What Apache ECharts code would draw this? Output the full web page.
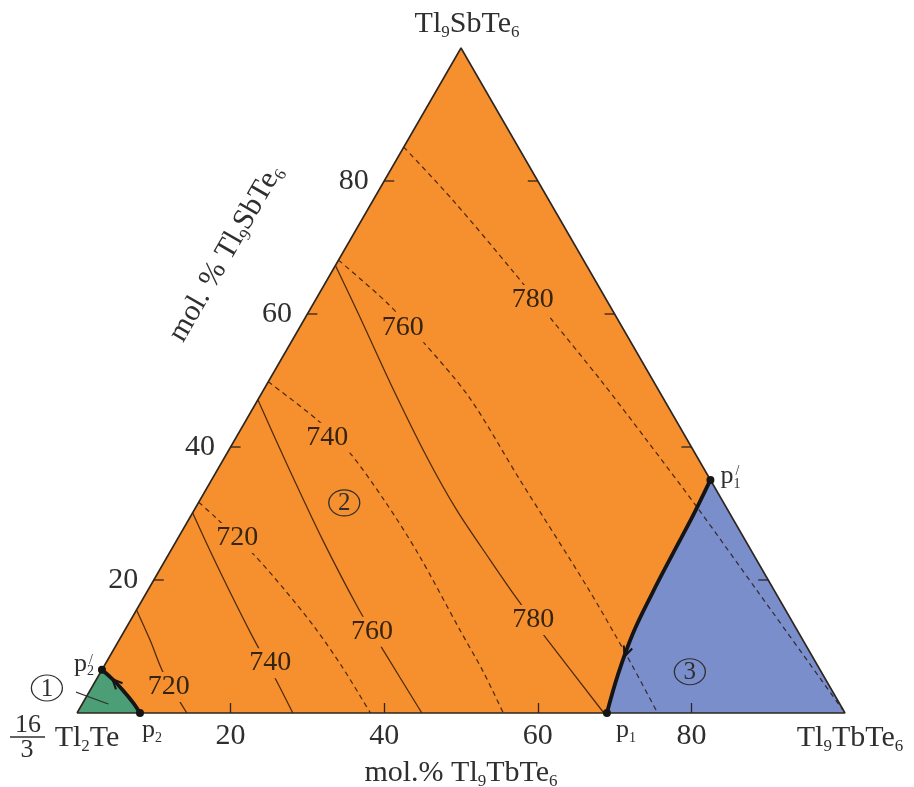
<!DOCTYPE html>
<html>
<head>
<meta charset="utf-8">
<script src="https://cdn.jsdelivr.net/npm/echarts@6/dist/echarts.min.js"></script>
<style>
  html, body { margin: 0; padding: 0; background: #fff; }
  #chart { width: 914px; height: 787px; }
</style>
</head>
<body>
<div id="chart"></div>
<script>
// Compositions are [mol.% Tl9TbTe6, mol.% Tl9SbTe6]; the remainder is Tl2Te.
const vertexTl2Te = [0, 0];
const vertexTl9TbTe6 = [100, 0];
const vertexTl9SbTe6 = [0, 100];
const edgeTicks = [20, 40, 60, 80];

// Invariant points on the boundary binaries
const pointNames = ['p1', "p1'", 'p2', "p2'"];
const pointValues = [[69, 0], [64.95, 35.05], [8.2, 0], [0, 6.5]];

// Monovariant curves separating the primary crystallization fields
const curveP1 = [[69, 0], [67.5, 6], [66.4, 12], [65.9, 18], [65.6, 24], [65.4, 29], [65.2, 32], [64.95, 35.05]];
const curveP2 = [[8.2, 0], [6.6, 1.5], [4.3, 3.4], [2.2, 5.0], [0, 6.5]];

// Isotherms, solid set (°C)
const solid720 = [[0, 15.5], [4, 11], [7.8, 6.5], [10.5, 3.7], [14.3, 0]];
const solid740 = [[0, 30.1], [5.3, 24.2], [11, 18], [17, 11.6], [23.4, 5], [28.1, 0]];
const solid760 = [[0, 47.1], [9, 37], [19, 26], [28.7, 15.8], [35.1, 9.5], [44.9, 0]];
const solid780 = [[0, 67.3], [7.1, 59.5], [16, 49.6], [26.3, 38.5], [34.2, 30.5], [42.3, 23], [48.9, 17], [55.4, 11.3], [68.6, 0]];

// Isotherms, dashed set (°C)
const dashed720 = [[0, 31.7], [3.2, 29.5], [11.4, 23.6], [17.8, 18.5], [24.6, 12.8], [31.2, 6.8], [38.2, 0]];
const dashed740 = [[0, 49.8], [9.2, 44.1], [15.4, 39.6], [24, 32], [32.6, 23.8], [43.6, 12.5], [49.8, 6.2], [55.5, 0]];
const dashed760 = [[0, 68.1], [9.5, 61.7], [16.8, 56.1], [27.3, 47.5], [40.2, 35], [56.9, 19], [67.2, 8.7], [75.6, 0]];
const dashed780 = [[0, 85.1], [10.4, 77.1], [23.7, 66.3], [32.3, 59.1], [43.1, 50.1], [53.7, 41], [65.2, 31], [79.8, 18], [99.5, 0.45]];

// Isotherm temperature labels
const isoLabelText = ['720', '740', '760', '780', '720', '740', '760', '780'];
const isoLabelPos = [[10, 3.9], [21.4, 7.5], [32.3, 12.2], [52.4, 14], [7.7, 26.3], [11.9, 41.4], [13.4, 58], [28.3, 62.1]];

// Field numbers and the leader for field 1
const fieldNames = ['1', '2', '3'];
const fieldPos = [[-5.8, 3.76], [19, 31.6], [76.7, 6.2]];
const fieldLeader = [[-3, 3.6], [3.4, 1.35]];

// Arrows along the curves: tip and a point behind it
const arrowTips = [[2.05, 5.1], [67.05, 8.5]];
const arrowTails = [[4.3, 3.4], [66.4, 12]];

// ---- drawing ----
const SQ = Math.sqrt(3) / 2;
const toXY = p => [p[0] + p[1] / 2, p[1] * SQ];

const FONT = 'Liberation Serif';
const TEXT = '#2f2f2f';
const INK = '#2e2620';
const ORANGE = '#F68F2E';
const BLUE = '#7A8ECC';
const GREEN = '#4C9E76';
const ISO = 'rgba(35,18,5,0.8)';
const LABEL_INK = '#35240f';

const sub = (size, lh) => ({ fontSize: size, fontFamily: FONT, color: TEXT, lineHeight: lh, verticalAlign: 'bottom' });

function fill(name, pts, color, z) {
  return {
    type: 'custom', name, coordinateSystem: 'cartesian2d', silent: true, z,
    data: [[0, 0]],
    renderItem: (params, api) => ({
      type: 'polygon',
      shape: { points: pts.map(p => api.coord(toXY(p))) },
      style: { fill: color }
    })
  };
}

function line(name, pts, lineStyle, z, smooth) {
  return {
    type: 'line', name, data: pts.map(toXY), symbol: 'none', showSymbol: false,
    smooth: smooth, lineStyle, z, silent: true, clip: false
  };
}

const solidStyle = { color: ISO, width: 1.25 };
const dashStyle = { color: ISO, width: 1.25, type: [5, 4] };
const thickStyle = { color: '#151515', width: 3.8 };

function textItem(pos, formatter, labelOpts) {
  return {
    value: toXY(pos),
    label: Object.assign({ show: true, formatter, position: 'inside', fontFamily: FONT, color: TEXT, opacity: 1 }, labelOpts)
  };
}

function textSeries(name, data, z) {
  return {
    type: 'scatter', name, z, silent: true, clip: false, symbolSize: 1,
    itemStyle: { color: 'rgba(0,0,0,0)', opacity: 1 }, data
  };
}

// Vertex and point labels
const vertexLabels = [
  textItem(vertexTl9SbTe6, 'Tl{s|9}SbTe{s|6}', { fontSize: 30, lineHeight: 34, offset: [6, -24], rich: { s: sub(17, 34) } }),
  textItem(vertexTl2Te, 'Tl{s|2}Te', { fontSize: 30, lineHeight: 34, offset: [10, 25], rich: { s: sub(17, 34) } }),
  textItem(vertexTl9TbTe6, 'Tl{s|9}TbTe{s|6}', { fontSize: 30, lineHeight: 34, offset: [5, 25], rich: { s: sub(17, 34) } })
];

const pRich = { s: sub(14, 30) };
const pointOffsets = { 'p1': [19, 17], "p1'": [20, -4], 'p2': [12, 17], "p2'": [-18, -6] };
const primeOffsets = { "p1'": [27, -9], "p2'": [-11, -9] };
const pointLabels = [];
pointNames.forEach((n, i) => {
  const digit = n.charAt(1);
  pointLabels.push(textItem(pointValues[i], 'p{s|' + digit + '}', { fontSize: 26, lineHeight: 30, offset: pointOffsets[n], rich: pRich }));
  if (primeOffsets[n]) {
    pointLabels.push(textItem(pointValues[i], '/', { fontSize: 14, offset: primeOffsets[n] }));
  }
});

const leftTickLabels = edgeTicks.map(t => textItem([0, t], String(t), { fontSize: 30, position: 'left', distance: 15 }));

const isoLabels = isoLabelText.map((t, i) => textItem(isoLabelPos[i], t, {
  fontSize: 28, color: LABEL_INK, backgroundColor: ORANGE, padding: [1, 2]
}));

const fieldMarks = fieldNames.map((n, i) => ({
  value: toXY(fieldPos[i]),
  label: { show: true, formatter: n, position: 'inside', fontFamily: FONT, fontSize: 25, color: TEXT, opacity: 1, offset: [0, 1] }
}));

const chart = echarts.init(document.getElementById('chart'), null, { renderer: 'canvas' });

chart.setOption({
  animation: false,
  backgroundColor: '#fff',
  grid: { left: 77, right: 69, top: 48, bottom: 74, outerBoundsMode: 'none' },
  xAxis: {
    type: 'value', min: 0, max: 100, z: 10,
    axisLine: { show: false },
    splitLine: { show: false },
    axisTick: { show: true, inside: true, length: 10, customValues: edgeTicks, lineStyle: { color: INK, width: 1.3 } },
    axisLabel: { customValues: edgeTicks, fontSize: 30, fontFamily: FONT, color: TEXT, margin: 8 },
    name: 'mol.% Tl{s|9}TbTe{s|6}',
    nameLocation: 'middle',
    nameGap: 43,
    nameTextStyle: { fontSize: 30, fontFamily: FONT, color: TEXT, lineHeight: 34, rich: { s: sub(17, 34) } }
  },
  yAxis: { type: 'value', min: 0, max: 100 * SQ, show: false },
  graphic: [
    {
      type: 'text', x: 226, y: 253, rotation: Math.PI / 3, z: 20,
      style: {
        text: 'mol. % Tl{s|9}SbTe{s|6}', fontSize: 30, fontFamily: FONT, fill: TEXT, lineHeight: 34,
        align: 'center', verticalAlign: 'middle', rich: { s: sub(17, 34) }
      }
    },
    { type: 'text', x: 28, y: 725, z: 20, style: { text: '16', fontSize: 26, fontFamily: FONT, fill: TEXT, align: 'center', verticalAlign: 'middle' } },
    { type: 'line', z: 20, shape: { x1: 10, y1: 737, x2: 45, y2: 737 }, style: { stroke: TEXT, lineWidth: 1.5 } },
    { type: 'text', x: 27, y: 750, z: 20, style: { text: '3', fontSize: 26, fontFamily: FONT, fill: TEXT, align: 'center', verticalAlign: 'middle' } }
  ],
  series: [
    fill('field 2', [vertexTl2Te, vertexTl9TbTe6, vertexTl9SbTe6], ORANGE, 1),
    fill('field 3', curveP1.concat([vertexTl9TbTe6]), BLUE, 2),
    fill('field 1', curveP2.concat([vertexTl2Te]), GREEN, 2),

    line('720 solid', solid720, solidStyle, 3, 0.3),
    line('740 solid', solid740, solidStyle, 3, 0.3),
    line('760 solid', solid760, solidStyle, 3, 0.3),
    line('780 solid', solid780, solidStyle, 3, 0.3),
    line('720 dashed', dashed720, dashStyle, 3, 0.3),
    line('740 dashed', dashed740, dashStyle, 3, 0.3),
    line('760 dashed', dashed760, dashStyle, 3, 0.3),
    line('780 dashed', dashed780, dashStyle, 3, 0.3),

    line('edges', [vertexTl2Te, vertexTl9TbTe6, vertexTl9SbTe6, vertexTl2Te], { color: INK, width: 1.6 }, 5, false),
    line('p1-p1\'', curveP1, thickStyle, 6, 0.4),
    line('p2-p2\'', curveP2, thickStyle, 6, 0.4),
    line('leader 1', fieldLeader, { color: TEXT, width: 1.2 }, 6, false),

    {
      // ticks on the two inclined sides
      type: 'custom', name: 'side ticks', coordinateSystem: 'cartesian2d', silent: true, z: 8,
      data: edgeTicks.flatMap(t => [toXY([0, t]).concat([1]), toXY([100 - t, t]).concat([-1])]),
      renderItem: (params, api) => {
        const p = api.coord([api.value(0), api.value(1)]);
        const d = api.value(2);
        return { type: 'line', shape: { x1: p[0], y1: p[1], x2: p[0] + 10 * d, y2: p[1] }, style: { stroke: INK, lineWidth: 1.3 } };
      }
    },
    {
      // open arrowheads showing the direction of falling temperature
      type: 'custom', name: 'arrows', coordinateSystem: 'cartesian2d', silent: true, z: 8,
      data: arrowTips.map((t, i) => toXY(t).concat(toXY(arrowTails[i]))),
      renderItem: (params, api) => {
        const tip = api.coord([api.value(0), api.value(1)]);
        const tail = api.coord([api.value(2), api.value(3)]);
        const ang = Math.atan2(tip[1] - tail[1], tip[0] - tail[0]);
        const L = 11, spread = 0.42;
        const a1 = [tip[0] - L * Math.cos(ang - spread), tip[1] - L * Math.sin(ang - spread)];
        const a2 = [tip[0] - L * Math.cos(ang + spread), tip[1] - L * Math.sin(ang + spread)];
        return { type: 'polyline', shape: { points: [a1, tip, a2] }, style: { stroke: '#151515', lineWidth: 2, fill: null } };
      }
    },
    {
      type: 'scatter', name: 'invariant points', z: 9, silent: true, clip: false,
      symbolSize: 8, itemStyle: { color: '#151515', opacity: 1 },
      data: pointValues.map(toXY)
    },
    {
      type: 'scatter', name: 'fields', z: 9, silent: true, clip: false,
      symbol: 'circle', symbolSize: [31, 26],
      itemStyle: { color: 'rgba(0,0,0,0)', borderColor: '#2f2f2f', borderWidth: 1.2, opacity: 1 },
      data: fieldMarks
    },
    textSeries('vertex labels', vertexLabels, 10),
    textSeries('point labels', pointLabels, 10),
    textSeries('side tick labels', leftTickLabels, 10),
    textSeries('isotherm labels', isoLabels, 10)
  ]
});
</script>
</body>
</html>
